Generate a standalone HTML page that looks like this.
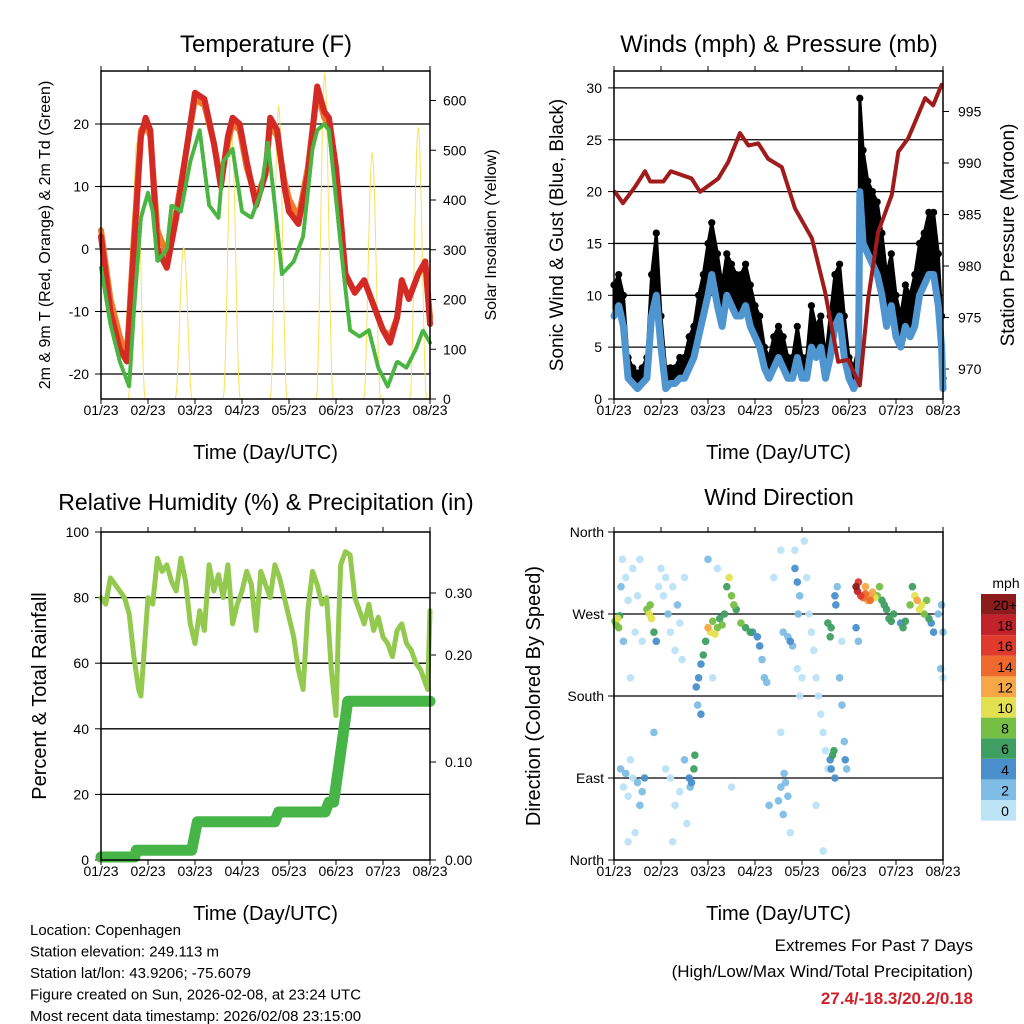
<!DOCTYPE html>
<html><head><meta charset="utf-8">
<style>
html,body{margin:0;padding:0;background:#fff;}
svg{display:block;font-family:"Liberation Sans",Arial,sans-serif;}
</style></head>
<body>
<svg id="c" width="1024" height="1024" viewBox="0 0 1024 1024"></svg>
<script>
// ---------- DATA ----------
const dayLabels=["01/23","02/23","03/23","04/23","05/23","06/23","07/23","08/23"];
const tT=[0,0.2,0.4,0.55,0.7,0.85,0.95,1.05,1.2,1.4,1.6,1.8,2.0,2.2,2.4,2.55,2.7,2.8,2.95,3.1,3.3,3.5,3.6,3.75,3.9,4.0,4.2,4.4,4.6,4.75,4.85,5.0,5.1,5.2,5.4,5.6,5.8,6.0,6.15,6.3,6.4,6.55,6.75,6.9,7.0];
const tempRed=[2,-10,-16,-18,0,18,21,19,0,-3,5,15,25,24,17,10,18,21,20,14,7,12,21,19,10,6,4,12,26,22,21,13,5,-4,-7,-5,-9,-13,-15,-11,-5,-8,-4,-2,-12];
const tempOrange=[3,-8,-14,-17,2,19,20,18,3,-1,6,15,24,23,17,11,17,20,19,13,8,12,20,18,11,8,5,13,25,21,20,12,4,-4,-7,-5,-9,-13,-14,-11,-5,-8,-4,-2,-11];
const tDew=[0,0.2,0.4,0.6,0.7,0.85,1.0,1.1,1.2,1.4,1.5,1.7,1.9,2.1,2.3,2.5,2.6,2.8,3.0,3.2,3.4,3.55,3.7,3.85,4.1,4.3,4.5,4.6,4.75,4.85,5.0,5.15,5.3,5.5,5.7,5.9,6.1,6.3,6.5,6.7,6.85,7.0];
const dewpoint=[-3,-12,-18,-22,-10,5,9,6,-2,0,7,6,14,19,7,5,14,16,6,5,9,17,7,-4,-2,2,16,19,20,19,8,-3,-13,-14,-13,-19,-22,-18,-19,-16,-13,-15];
const solarPeakT=[0.76,1.76,2.78,3.78,4.76,5.77,6.75];
const solarPeak=[515,305,540,590,655,495,545];

const windT=[0,0.1,0.2,0.3,0.4,0.5,0.6,0.7,0.8,0.9,1.0,1.1,1.2,1.3,1.4,1.5,1.6,1.7,1.8,1.9,2.0,2.08,2.2,2.3,2.4,2.5,2.6,2.7,2.8,2.9,3.0,3.1,3.2,3.3,3.4,3.5,3.6,3.7,3.8,3.9,4.0,4.1,4.2,4.3,4.4,4.5,4.6,4.7,4.8,4.9,5.0,5.1,5.2,5.23,5.3,5.4,5.5,5.6,5.7,5.8,5.9,6.0,6.1,6.2,6.3,6.4,6.5,6.6,6.7,6.8,6.9,6.97,7.0];
const windSpd=[8,9,7,2,1.5,1,1.5,2,8,10,5,1,1.5,1.5,2,2,3,4,6,8,10,12,9,7,10,9,8,8,9,7,6,5,3,2,3,4,3,2,2,4,2,2,5,4,5,2,4,7,8,4,2,1,2,20,15,14,13,12,10,7,9,6,5,7,6,7,10,11,12,12,9,5,1];
const windGust=[11,12,10,4,3,2.5,3,4,12,16,8,3,3,3,4,4,6,7,10,12,15,17,14,11,14,13,12,12,13,11,9,8,5,4,6,7,6,4,4,7,4,4,9,7,8,4,8,12,13,8,4,3,5,29,24,21,20,19,16,12,14,10,8,11,10,12,15,16,18,18,14,8,2];
const presT=[0.02,0.19,0.45,0.66,0.77,1.05,1.21,1.65,1.83,2.22,2.43,2.68,2.86,3.07,3.28,3.57,3.85,4.21,4.49,4.77,4.98,5.23,5.41,5.62,5.91,6.05,6.26,6.62,6.79,6.97];
const pressure=[987.2,986.1,987.7,989.2,988.2,988.2,989.2,988.5,987.2,988.5,990.1,992.9,991.7,991.9,990.4,989.6,985.6,982.7,977.5,970.7,970.9,968.4,976.9,983.3,986.9,991.1,992.4,996.3,995.6,997.6];

const rhT=[0,0.1,0.2,0.3,0.4,0.5,0.6,0.7,0.8,0.85,0.9,1.0,1.1,1.2,1.3,1.4,1.5,1.6,1.7,1.8,1.9,2.0,2.1,2.2,2.3,2.4,2.5,2.6,2.7,2.8,2.9,3.0,3.1,3.2,3.3,3.4,3.5,3.6,3.7,3.8,3.9,4.0,4.1,4.2,4.3,4.4,4.5,4.6,4.7,4.8,4.9,5.0,5.05,5.1,5.2,5.3,5.4,5.5,5.6,5.7,5.8,5.9,6.0,6.1,6.2,6.3,6.4,6.5,6.6,6.7,6.8,6.9,6.95,7.0];
const rh=[80,78,86,84,82,80,75,62,52,50,60,80,78,92,88,90,85,82,92,85,72,66,76,70,90,82,87,80,90,72,78,82,88,84,70,88,84,80,90,86,80,74,68,58,52,76,88,84,78,80,58,44,70,90,94,93,80,76,72,78,70,74,68,66,62,70,72,66,64,60,58,54,52,76];
const precT=[0,0.72,0.75,1.93,2.05,3.7,3.78,4.77,4.85,4.95,5.1,5.25,7.0];
const precip=[0.003,0.003,0.010,0.010,0.039,0.039,0.049,0.049,0.059,0.059,0.110,0.162,0.162];

const wdT=[0.02,0.05,0.08,0.1,0.12,0.15,0.18,0.2,0.25,0.3,0.35,0.4,0.45,0.5,0.55,0.6,0.14,0.2,0.25,0.3,0.35,0.4,0.5,0.55,0.6,0.65,0.45,0.3,0.7,0.75,0.8,0.77,0.85,0.9,0.95,1.0,0.85,
1.05,1.1,1.15,1.2,1.25,1.3,1.35,1.4,1.45,1.5,1.2,1.3,1.1,1.25,1.4,1.5,1.6,1.65,1.7,1.72,1.62,1.55,1.75,1.8,1.85,1.9,1.95,1.78,1.85,
2.0,2.05,2.1,2.15,2.2,2.25,2.3,2.35,2.4,2.45,2.5,2.55,2.6,2.7,2.8,2.9,2.95,2.0,2.2,2.5,2.1,
3.05,3.1,3.15,3.2,3.25,3.3,3.4,3.55,3.5,3.55,3.6,3.62,3.65,3.7,3.75,3.6,3.7,3.75,3.8,3.85,3.9,3.95,3.92,3.85,3.9,4.0,3.95,3.55,
4.05,4.1,4.15,4.2,4.25,4.3,4.35,4.4,4.45,4.5,4.55,4.3,4.45,4.6,4.62,4.65,4.68,4.7,4.55,4.6,4.62,4.7,4.72,4.75,4.8,4.85,4.9,4.92,4.95,4.85,
5.15,5.18,5.2,5.25,5.3,5.35,5.4,5.45,5.5,5.55,5.6,5.65,5.7,5.75,5.8,5.85,5.9,5.95,5.35,5.45,5.15,5.2,
6.1,6.15,6.2,6.3,6.35,6.4,6.45,6.5,6.55,6.6,6.65,6.7,6.75,6.8,6.9,6.95,7.0,7.0,6.97];
const wdDir=[262,258,265,255,268,300,330,240,310,285,200,320,250,290,330,240,100,80,95,70,110,90,85,60,75,90,30,20,275,270,265,280,250,240,300,320,140,
290,310,270,250,300,230,280,260,220,310,90,60,100,20,75,110,90,85,100,115,80,40,190,200,215,225,240,170,160,
255,250,262,248,255,265,258,270,300,310,290,280,275,260,255,250,250,330,320,80,200,
245,235,220,200,195,60,310,340,65,80,50,95,85,70,30,250,245,240,235,320,305,290,270,340,210,200,180,140,
350,310,270,250,230,200,180,160,140,120,100,60,10,110,100,115,120,90,260,245,255,290,280,300,200,170,130,110,100,240,
300,295,305,290,288,292,285,290,294,288,290,300,285,280,275,265,262,270,300,285,255,240,
260,255,262,280,300,290,285,275,280,270,285,265,260,250,270,210,200,250,280];
const wdSpd=[8,9,10,8,7,2,1,3,1,0,1,0,1,1,0,1,3,1,2,1,0,1,3,2,3,4,1,0,9,10,11,8,6,4,1,0,3,
1,0,2,1,1,0,2,1,0,1,1,1,0,1,1,2,4,5,6,7,3,1,4,4,5,6,7,3,4,
12,10,8,11,9,7,8,6,7,10,9,8,7,8,7,6,5,2,1,0,1,
4,4,3,2,2,2,1,1,2,2,2,2,2,2,1,3,3,4,2,4,4,3,2,1,1,1,1,0,
1,0,1,0,0,1,0,1,1,0,1,0,0,4,5,7,7,4,7,6,7,4,4,3,2,2,3,4,3,1,
20,18,16,17,15,14,13,12,12,11,9,8,7,6,6,6,7,6,13,14,4,2,
5,6,7,8,7,10,12,11,10,9,8,6,5,4,3,2,0,3,2];
const speedBins=["0","2","4","6","8","10","12","14","16","18","20+"];
const binColors=["#bde3f7","#80bde6","#4a8fcc","#3f9f62","#76bf45","#e3e152","#f6a746","#ee6a2c","#df3a2b","#c2232a","#8c1b1b"];

// ---------- HELPERS ----------
const NS="http://www.w3.org/2000/svg";
const svg=document.getElementById("c");
function el(tag,attrs,parent,text){const e=document.createElementNS(NS,tag);for(const k in attrs)e.setAttribute(k,attrs[k]);if(text!==undefined)e.textContent=text;(parent||svg).appendChild(e);return e;}
function grp(name){const g=el("g",{});return g;}
function mkX(x0){return t=>x0+t*47;}
function txt(g,x,y,s,size,anchor,name,extra){const e=el("text",Object.assign({x:x,y:y,"font-size":size,"text-anchor":anchor||"middle",fill:"#000"},extra||{}),g,s);return e;}
function vtxt(g,x,y,s,size,name){const e=el("text",{x:0,y:0,"font-size":size,"text-anchor":"middle",transform:`translate(${x},${y}) rotate(-90)`},g,s);return e;}
function frame(g,x0,y0,x1,y1){
  const f=el("rect",{x:x0,y:y0,width:x1-x0,height:y1-y0,fill:"none",stroke:"#000","stroke-width":1.5},g);
  
  const X=mkX(x0);
  for(let i=0;i<dayLabels.length;i++){
    el("line",{x1:X(i),x2:X(i),y1:y1,y2:y1+5,stroke:"#000","stroke-width":1},g);
    el("line",{x1:X(i),x2:X(i),y1:y0,y2:y0-5,stroke:"#000","stroke-width":1},g);
    txt(g,X(i),y1+16,dayLabels[i],14,"middle","x-tick-label");
  }
  txt(g,(x0+x1)/2,y1+60,"Time (Day/UTC)",20,"middle","x-axis-title");
}
function poly(g,pts,attrs,name){const p=el("polyline",Object.assign({points:pts.map(p=>p.join(",")).join(" "),fill:"none","stroke-linejoin":"round","stroke-linecap":"round"},attrs),g);return p;}

// ---------- PANEL 1 TEMPERATURE ----------
(function(){
  const g=grp("temperature-panel");
  const x0=101,x1=430,y0=71,y1=399;const X=mkX(x0);
  const Y=v=>249-v*6.25; const YS=v=>399-v*0.4975;
  txt(g,266,52,"Temperature (F)",24,"middle","chart-title");
  [20,10,0,-10,-20].forEach(v=>{el("line",{x1:x0,x2:x1,y1:Y(v),y2:Y(v),stroke:"#000","stroke-width":1.3},g);el("line",{x1:x0-6,x2:x0,y1:Y(v),y2:Y(v),stroke:"#000"},g);txt(g,x0-12,Y(v)+5,String(v),14,"end","y-tick-label");});
  [0,100,200,300,400,500,600].forEach(v=>{el("line",{x1:x1,x2:x1+6,y1:YS(v),y2:YS(v),stroke:"#000"},g);txt(g,x1+13,YS(v)+5,String(v),14,"start","y2-tick-label");});
  solarPeakT.forEach((pt,i)=>{const pts=[];for(let k=-10;k<=10;k++){const dt=k*0.018;const f=Math.cos(k/10*Math.PI/2);pts.push([X(pt+dt),YS(solarPeak[i]*f*f)]);}
    const p=poly(g,pts,{stroke:"#f7e15a","stroke-width":1});});
  poly(g,tT.map((t,i)=>[X(t),Y(tempOrange[i])]),{stroke:"#f07a2a","stroke-width":6},"temp-9m-line");
  poly(g,tT.map((t,i)=>[X(t),Y(tempRed[i])]),{stroke:"#d42a26","stroke-width":6},"temp-2m-line");
  poly(g,tDew.map((t,i)=>[X(t),Y(dewpoint[i])]),{stroke:"#4bb543","stroke-width":4,"stroke-dasharray":"2 2"},"dewpoint-line");
  frame(g,x0,y0,x1,y1);
  vtxt(g,50,235,"2m & 9m T (Red, Orange) & 2m Td (Green)",16,"y-axis-title");
  vtxt(g,496,235,"Solar Insolation (Yellow)",16,"y2-axis-title");
})();

// ---------- PANEL 2 WINDS ----------
(function(){
  const g=grp("winds-panel");
  const x0=614,x1=943,y0=71,y1=399;const X=mkX(x0);
  const Y=v=>399-v*10.37; const YP=v=>369-(v-970)*10.3;
  txt(g,779,52,"Winds (mph) & Pressure (mb)",24,"middle","chart-title");
  [0,5,10,15,20,25,30].forEach(v=>{if(v>0)el("line",{x1:x0,x2:x1,y1:Y(v),y2:Y(v),stroke:"#000","stroke-width":1.3},g);el("line",{x1:x0-6,x2:x0,y1:Y(v),y2:Y(v),stroke:"#000"},g);txt(g,x0-12,Y(v)+5,String(v),14,"end","y-tick-label");});
  [970,975,980,985,990,995].forEach(v=>{el("line",{x1:x1,x2:x1+6,y1:YP(v),y2:YP(v),stroke:"#000"},g);txt(g,x1+15,YP(v)+5,String(v),14,"start","y2-tick-label");});
  const band=windT.map((t,i)=>[X(t),Y(windGust[i])]).concat(windT.map((t,i)=>[X(t),Y(windSpd[i])]).reverse());
  const bp=el("polygon",{points:band.map(p=>p.join(",")).join(" "),fill:"#000",stroke:"#000","stroke-width":3,"stroke-linejoin":"round"},g);
  
  windT.forEach((t,i)=>{const c=el("circle",{cx:X(t),cy:Y(windGust[i]),r:3.6,fill:"#000"},g);});
  poly(g,windT.map((t,i)=>[X(t),Y(windSpd[i])]),{stroke:"#4f95d0","stroke-width":7},"wind-speed-line");
  poly(g,presT.map((t,i)=>[X(t),YP(pressure[i])]),{stroke:"#a01c1c","stroke-width":4},"pressure-line");
  frame(g,x0,y0,x1,y1);
  vtxt(g,563,235,"Sonic Wind & Gust (Blue, Black)",19,"y-axis-title");
  vtxt(g,1014,235,"Station Pressure (Maroon)",19,"y2-axis-title");
})();

// ---------- PANEL 3 RH ----------
(function(){
  const g=grp("humidity-panel");
  const x0=101,x1=430,y0=532,y1=860;const X=mkX(x0);
  const Y=v=>860-v*3.28; const YR=v=>860-v*980;
  txt(g,266,510,"Relative Humidity (%) & Precipitation (in)",23,"middle","chart-title");
  [0,20,40,60,80,100].forEach(v=>{if(v>0&&v<100)el("line",{x1:x0,x2:x1,y1:Y(v),y2:Y(v),stroke:"#000","stroke-width":1.3},g);el("line",{x1:x0-6,x2:x0,y1:Y(v),y2:Y(v),stroke:"#000"},g);txt(g,x0-12,Y(v)+5,String(v),14,"end","y-tick-label");});
  [["0.00",860],["0.10",762],["0.20",655],["0.30",593]].forEach(a=>{el("line",{x1:x1,x2:x1+6,y1:a[1],y2:a[1],stroke:"#000"},g);txt(g,x1+15,a[1]+5,a[0],14,"start","y2-tick-label");});
  poly(g,rhT.map((t,i)=>[X(t),Y(rh[i])]),{stroke:"#93c94f","stroke-width":5},"rh-line");
  poly(g,precT.map((t,i)=>[X(t),YR(precip[i])]),{stroke:"#47b447","stroke-width":11},"precip-line");
  frame(g,x0,y0,x1,y1);
  vtxt(g,46,696,"Percent & Total Rainfall",20,"y-axis-title");
})();

// ---------- PANEL 4 WIND DIRECTION ----------
(function(){
  const g=grp("wind-direction-panel");
  const x0=614,x1=943,y0=532,y1=860;const X=mkX(x0);
  const Y=d=>860-d/360*328;
  txt(g,779,505,"Wind Direction",23,"middle","chart-title");
  [["North",360],["West",270],["South",180],["East",90],["North",0]].forEach(a=>{if(a[1]>0&&a[1]<360)el("line",{x1:x0,x2:x1,y1:Y(a[1]),y2:Y(a[1]),stroke:"#000","stroke-width":1.3},g);el("line",{x1:x0-6,x2:x0,y1:Y(a[1]),y2:Y(a[1]),stroke:"#000"},g);txt(g,x0-10,Y(a[1])+5,a[0],14,"end","y-tick-label");});
  const order=wdT.map((t,i)=>i).sort((a,b)=>wdSpd[a]-wdSpd[b]);
  order.forEach(i=>{const b=Math.min(10,Math.floor(wdSpd[i]/2));const c=el("circle",{cx:X(wdT[i]),cy:Y(wdDir[i]),r:3.8,fill:binColors[b],"fill-opacity":0.95},g);});
  frame(g,x0,y0,x1,y1);
  vtxt(g,540,696,"Direction (Colored By Speed)",20,"y-axis-title");
  const cb=grp("speed-colorbar");
  txt(cb,1006,588,"mph",14,"middle","colorbar-title");
  for(let i=0;i<11;i++){const yy=594+(10-i)*20.6;const r=el("rect",{x:981,y:yy,width:35,height:20.6,fill:binColors[i]},cb);txt(cb,1005,yy+16,speedBins[i],14,"middle","colorbar-label");}
})();

// ---------- FOOTER ----------
(function(){
  const g=grp("station-info");
  ["Location: Copenhagen","Station elevation: 249.113 m","Station lat/lon: 43.9206; -75.6079","Figure created on Sun, 2026-02-08, at 23:24 UTC","Most recent data timestamp: 2026/02/08 23:15:00"].forEach((s,i)=>txt(g,30,935+i*21.5,s,15,"start","info-line"));
  const h=grp("extremes-summary");
  txt(h,973,951,"Extremes For Past 7 Days",17,"end","extremes-title");
  txt(h,973,977,"(High/Low/Max Wind/Total Precipitation)",17,"end","extremes-subtitle");
  txt(h,973,1004,"27.4/-18.3/20.2/0.18",17,"end","extremes-values",{fill:"#d0202a","font-weight":"bold"});
})();
</script>
</body></html>
